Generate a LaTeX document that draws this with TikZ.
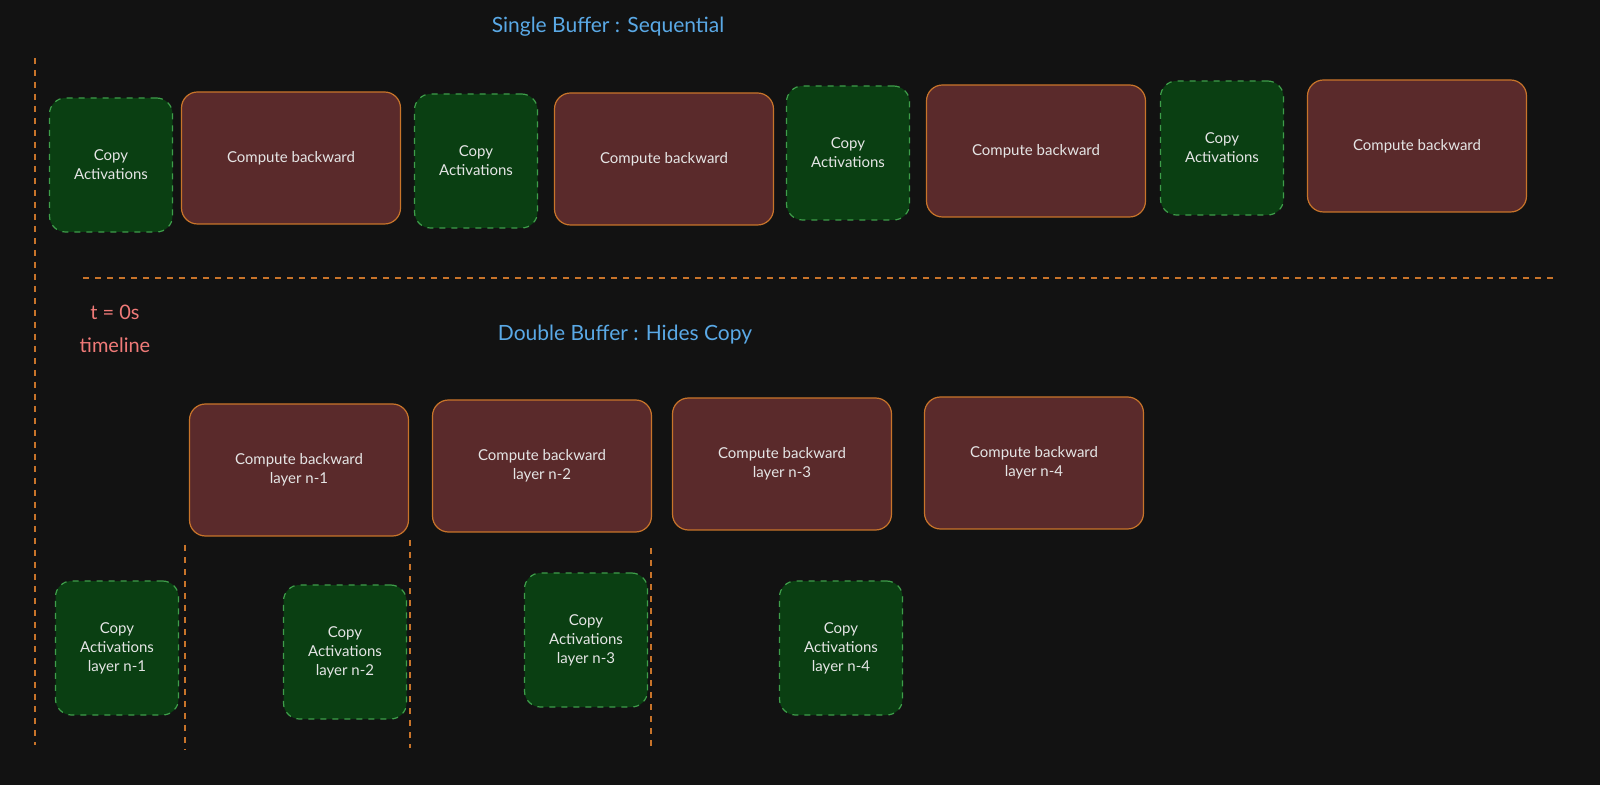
\documentclass[tikz,border=0pt]{standalone}
\usepackage{fontspec}
\setmainfont{Lato}
\usepackage{tikz}
\usetikzlibrary{positioning}
\definecolor{bgdark}{HTML}{121212}
\definecolor{copyfill}{HTML}{0A3F12}
\definecolor{copyline}{HTML}{3E9E4A}
\definecolor{compfill}{HTML}{5A2A2B}
\definecolor{compline}{HTML}{C8742A}
\definecolor{titleblue}{HTML}{5AA9E6}
\definecolor{timered}{HTML}{F07A78}
\begin{document}
\begin{tikzpicture}[x=0.5pt,y=-0.5pt,
  CopyStyle/.style = {shape = rectangle, rounded corners = 8pt,
                      fill = copyfill, draw = copyline, dashed, line width = 0.6pt,
                      text = white!90!black, align = center,
                      minimum width = 61.5pt, minimum height = 67pt,
                      font = \fontsize{7.5}{9.5}\selectfont},
  CompStyle/.style = {shape = rectangle, rounded corners = 8pt,
                      fill = compfill, draw = compline, line width = 0.6pt,
                      text = white!90!black, align = center,
                      minimum width = 109.5pt, minimum height = 66pt,
                      font = \fontsize{7.5}{9.5}\selectfont},
  MarkStyle/.style = {draw = compline, dashed, line width = 0.6pt},
  TitleStyle/.style = {text = titleblue, font = \fontsize{10.5}{12}\selectfont}]
  \useasboundingbox (0,0) rectangle (1600,785);
  \fill[bgdark] (0,0) rectangle (1600,785);
  %%% TITLES %%%
  \node[TitleStyle] (title1) at (608,27) {Single Buffer : Sequential};
  \node[TitleStyle] (title2) at (625,335) {Double Buffer : Hides Copy};
  \node[text = timered, align = center, font = \fontsize{10}{16.5}\selectfont] (tzero) at (115,329) {t = 0s\\timeline};
  %%% MARKERS %%%
  \draw[MarkStyle] (35,58) -- (35,745);
  \draw[MarkStyle] (83,278) -- (1555,278);
  \foreach \x/\ya/\yb in {185/545/750, 410/540/748, 651/548/750}
    \draw[MarkStyle] (\x,\ya) -- (\x,\yb);
  %%% SEQUENTIAL %%%
  \foreach \n/\x/\y in {1/111/165, 2/476/161, 3/848/153, 4/1222/148}
    \node[CopyStyle] (sc\n) at (\x,\y) {Copy\\Activations};
  \foreach \n/\x/\y in {1/291/158, 2/664/159, 3/1036/151, 4/1417/146}
    \node[CompStyle] (sb\n) at (\x,\y) {Compute backward};
  %%% DOUBLE BUFFER %%%
  \foreach \n/\x/\y in {1/299/470, 2/542/466, 3/782/464, 4/1034/463}
    \node[CompStyle] (db\n) at (\x,\y) {Compute backward\\layer n-\n};
  \foreach \n/\x/\y in {1/117/648, 2/345/652, 3/586/640, 4/841/648}
    \node[CopyStyle] (dc\n) at (\x,\y) {Copy\\Activations\\layer n-\n};
\end{tikzpicture}
\end{document}
